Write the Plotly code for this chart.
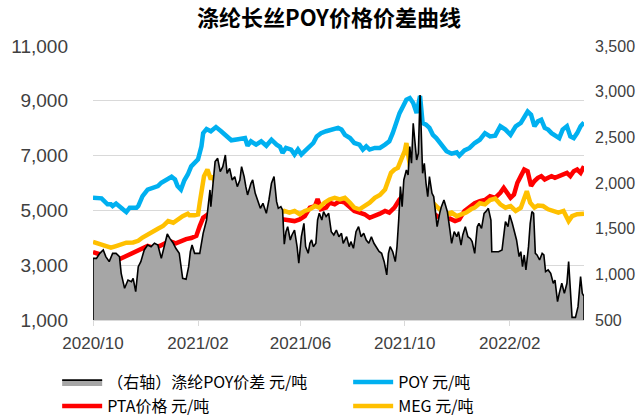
import plotly.graph_objects as go

# ---------------- data ----------------
poy_dates = ["2020-10-01","2020-10-11","2020-10-18","2020-10-22","2020-10-24","2020-10-28","2020-11-05","2020-11-09","2020-11-13","2020-11-21","2020-11-23","2020-11-28","2020-12-04","2020-12-10","2020-12-16","2020-12-20","2020-12-26","2021-01-01","2021-01-05","2021-01-08","2021-01-12","2021-01-16","2021-01-20","2021-01-24","2021-02-01","2021-02-05","2021-02-07","2021-02-11","2021-02-16","2021-02-22","2021-02-28","2021-03-06","2021-03-12","2021-03-20","2021-03-28","2021-03-31","2021-04-04","2021-04-10","2021-04-16","2021-04-22","2021-04-28","2021-05-04","2021-05-08","2021-05-11","2021-05-15","2021-05-21","2021-05-25","2021-05-29","2021-06-02","2021-06-06","2021-06-10","2021-06-16","2021-06-20","2021-06-25","2021-07-01","2021-07-09","2021-07-15","2021-07-19","2021-07-23","2021-07-29","2021-08-03","2021-08-09","2021-08-13","2021-08-17","2021-08-21","2021-08-27","2021-09-02","2021-09-08","2021-09-13","2021-09-17","2021-09-21","2021-09-25","2021-09-29","2021-10-03","2021-10-07","2021-10-11","2021-10-15","2021-10-18","2021-10-19","2021-10-22","2021-10-26","2021-10-30","2021-11-03","2021-11-07","2021-11-11","2021-11-15","2021-11-19","2021-11-25","2021-12-01","2021-12-04","2021-12-10","2021-12-16","2021-12-22","2021-12-28","2022-01-03","2022-01-09","2022-01-15","2022-01-21","2022-01-27","2022-02-02","2022-02-08","2022-02-14","2022-02-18","2022-02-22","2022-02-26","2022-03-02","2022-03-06","2022-03-10","2022-03-14","2022-03-18","2022-03-22","2022-03-26","2022-03-31","2022-04-04","2022-04-09","2022-04-13","2022-04-17","2022-04-21","2022-04-25","2022-04-29"]
poy_values = [5460,5440,5220,5220,5160,5250,5040,4940,5100,5100,5160,5520,5760,5830,5890,6010,6130,6230,6130,5890,5760,6100,6310,6610,6860,7340,7820,7970,7890,8040,7890,7730,7560,7600,7640,7360,7520,7400,7520,7360,7580,7400,7320,7100,7280,7220,7040,7220,7040,7160,7280,7460,7700,7820,7890,7950,8010,7950,7760,7640,7460,7400,7220,7340,7220,7280,7280,7400,7520,7820,8190,8550,8790,9040,9100,8920,8550,9040,9180,8190,8130,8010,7760,7640,7460,7280,7160,7070,7120,7000,7190,7280,7460,7580,7820,7700,7730,8070,7950,7760,8070,8190,8430,8610,8490,8070,8250,8310,8010,7950,7820,7760,7640,7950,8070,7700,7640,7820,8070,8210]

pta_dates = ["2020-10-01","2020-10-09","2020-10-16","2020-10-22","2020-10-28","2020-11-05","2020-11-13","2020-11-21","2020-11-28","2020-12-04","2020-12-10","2020-12-18","2020-12-26","2021-01-01","2021-01-06","2021-01-12","2021-01-18","2021-01-24","2021-01-30","2021-02-03","2021-02-07","2021-02-11","2021-02-15","2021-02-18","2021-02-24","2021-03-02","2021-03-08","2021-03-14","2021-03-20","2021-03-26","2021-03-31","2021-04-06","2021-04-12","2021-04-18","2021-04-24","2021-04-30","2021-05-06","2021-05-10","2021-05-13","2021-05-19","2021-05-25","2021-05-31","2021-06-06","2021-06-12","2021-06-18","2021-06-21","2021-06-25","2021-07-01","2021-07-05","2021-07-11","2021-07-17","2021-07-23","2021-07-29","2021-08-03","2021-08-09","2021-08-15","2021-08-21","2021-08-27","2021-09-02","2021-09-08","2021-09-13","2021-09-19","2021-09-25","2021-09-29","2021-10-03","2021-10-07","2021-10-11","2021-10-15","2021-10-19","2021-10-24","2021-10-30","2021-11-05","2021-11-11","2021-11-17","2021-11-23","2021-11-29","2021-12-04","2021-12-10","2021-12-16","2021-12-22","2021-12-28","2022-01-03","2022-01-09","2022-01-15","2022-01-21","2022-01-25","2022-01-29","2022-02-02","2022-02-06","2022-02-10","2022-02-14","2022-02-18","2022-02-22","2022-02-26","2022-03-02","2022-03-06","2022-03-10","2022-03-14","2022-03-18","2022-03-22","2022-03-26","2022-03-30","2022-04-03","2022-04-09","2022-04-13","2022-04-17","2022-04-21","2022-04-25","2022-04-29"]
pta_values = [3480,3400,3160,3040,3160,3280,3400,3520,3610,3700,3640,3700,3820,3850,3800,3890,3950,3990,4070,4430,4730,4820,4670,4770,4550,4430,4310,4430,4370,4490,4610,4670,4580,4610,4670,4770,4790,4680,4670,4670,4610,4670,4790,5100,5160,5420,5040,5100,5280,5220,5340,5280,5100,4980,4920,4860,4730,4790,4880,4980,4920,5100,5400,5520,5460,5340,5220,5280,5100,5040,4920,4860,4730,4670,4700,4610,4670,4980,5130,5260,5340,5380,5520,5460,5640,5820,5640,5460,5580,6010,6250,6490,6430,5890,6070,6190,6250,6130,6190,6250,6190,6250,6310,6370,6250,6430,6490,6370,6610]

meg_dates = ["2020-10-01","2020-10-09","2020-10-16","2020-10-22","2020-10-28","2020-11-03","2020-11-09","2020-11-17","2020-11-23","2020-11-28","2020-12-04","2020-12-10","2020-12-16","2020-12-22","2020-12-28","2021-01-03","2021-01-08","2021-01-14","2021-01-20","2021-01-22","2021-01-28","2021-02-01","2021-02-03","2021-02-05","2021-02-08","2021-02-12","2021-02-16","2021-02-18","2021-02-22","2021-02-26","2021-03-02","2021-03-08","2021-03-14","2021-03-20","2021-03-26","2021-03-31","2021-04-06","2021-04-12","2021-04-18","2021-04-24","2021-04-28","2021-05-02","2021-05-08","2021-05-13","2021-05-19","2021-05-25","2021-05-31","2021-06-06","2021-06-12","2021-06-18","2021-06-23","2021-06-29","2021-07-05","2021-07-11","2021-07-17","2021-07-23","2021-07-29","2021-08-03","2021-08-09","2021-08-15","2021-08-21","2021-08-27","2021-09-02","2021-09-08","2021-09-11","2021-09-15","2021-09-19","2021-09-23","2021-09-27","2021-10-01","2021-10-03","2021-10-05","2021-10-07","2021-10-09","2021-10-13","2021-10-17","2021-10-21","2021-10-26","2021-11-01","2021-11-07","2021-11-13","2021-11-19","2021-11-25","2021-12-01","2021-12-06","2021-12-12","2021-12-18","2021-12-22","2021-12-28","2022-01-03","2022-01-09","2022-01-15","2022-01-21","2022-01-27","2022-02-02","2022-02-08","2022-02-14","2022-02-18","2022-02-21","2022-02-25","2022-03-02","2022-03-06","2022-03-12","2022-03-18","2022-03-24","2022-03-30","2022-04-05","2022-04-11","2022-04-15","2022-04-21","2022-04-29"]
meg_values = [3850,3760,3700,3640,3700,3760,3820,3830,3890,4010,4130,4250,4330,4430,4610,4550,4670,4790,4880,4820,4820,4850,5280,5760,6250,6490,6130,6270,5890,5460,5160,5040,5100,5180,5100,5160,4920,4790,4770,4860,5100,4860,4920,4980,4920,4980,4860,4980,5040,5160,5100,5280,5400,5460,5400,5460,5280,5100,5040,5160,5280,5460,5560,5760,6070,6370,6490,6550,6860,7160,7460,6980,6490,6250,5890,5700,5580,5460,5340,5160,4980,4860,4920,4790,4860,4920,5050,5100,5260,5220,5380,5430,5220,5100,5160,4980,5100,5460,5700,5280,5100,5180,5160,5040,4980,4920,4980,4610,4790,4860,4880]

spread_dates = ["2020-10-01","2020-10-05","2020-10-09","2020-10-13","2020-10-16","2020-10-20","2020-10-24","2020-10-28","2020-11-01","2020-11-03","2020-11-07","2020-11-11","2020-11-15","2020-11-17","2020-11-20","2020-11-23","2020-11-26","2020-11-30","2020-12-04","2020-12-08","2020-12-12","2020-12-16","2020-12-20","2020-12-24","2020-12-27","2020-12-30","2021-01-03","2021-01-06","2021-01-10","2021-01-14","2021-01-18","2021-01-21","2021-01-23","2021-01-25","2021-01-28","2021-02-03","2021-02-07","2021-02-11","2021-02-13","2021-02-15","2021-02-16","2021-02-18","2021-02-21","2021-02-24","2021-02-27","2021-03-02","2021-03-05","2021-03-07","2021-03-10","2021-03-13","2021-03-16","2021-03-19","2021-03-22","2021-03-24","2021-03-27","2021-03-29","2021-03-31","2021-04-04","2021-04-06","2021-04-09","2021-04-12","2021-04-15","2021-04-18","2021-04-22","2021-04-25","2021-04-28","2021-05-01","2021-05-04","2021-05-06","2021-05-09","2021-05-11","2021-05-13","2021-05-15","2021-05-17","2021-05-20","2021-05-22","2021-05-25","2021-05-28","2021-05-30","2021-06-02","2021-06-05","2021-06-07","2021-06-10","2021-06-12","2021-06-14","2021-06-16","2021-06-19","2021-06-21","2021-06-23","2021-06-26","2021-06-28","2021-07-01","2021-07-04","2021-07-07","2021-07-10","2021-07-13","2021-07-16","2021-07-19","2021-07-21","2021-07-25","2021-07-28","2021-07-30","2021-08-02","2021-08-05","2021-08-08","2021-08-11","2021-08-14","2021-08-17","2021-08-20","2021-08-23","2021-08-26","2021-08-29","2021-09-01","2021-09-04","2021-09-07","2021-09-10","2021-09-12","2021-09-14","2021-09-17","2021-09-20","2021-09-22","2021-09-24","2021-09-26","2021-09-28","2021-09-30","2021-10-03","2021-10-05","2021-10-07","2021-10-09","2021-10-11","2021-10-13","2021-10-15","2021-10-17","2021-10-19","2021-10-22","2021-10-24","2021-10-26","2021-10-28","2021-10-30","2021-11-02","2021-11-04","2021-11-06","2021-11-08","2021-11-11","2021-11-13","2021-11-16","2021-11-18","2021-11-20","2021-11-23","2021-11-25","2021-11-28","2021-12-01","2021-12-03","2021-12-06","2021-12-08","2021-12-11","2021-12-14","2021-12-17","2021-12-19","2021-12-22","2021-12-25","2021-12-27","2021-12-30","2022-01-02","2022-01-04","2022-01-07","2022-01-10","2022-01-11","2022-01-15","2022-01-19","2022-01-23","2022-01-25","2022-01-27","2022-01-30","2022-02-01","2022-02-04","2022-02-07","2022-02-09","2022-02-12","2022-02-14","2022-02-16","2022-02-18","2022-02-20","2022-02-23","2022-02-25","2022-02-27","2022-03-01","2022-03-03","2022-03-05","2022-03-08","2022-03-11","2022-03-13","2022-03-15","2022-03-18","2022-03-21","2022-03-24","2022-03-26","2022-03-29","2022-03-31","2022-04-03","2022-04-06","2022-04-09","2022-04-11","2022-04-13","2022-04-15","2022-04-19","2022-04-22","2022-04-25","2022-04-27","2022-04-29"]
spread_values = [1175,1175,1230,1267,1194,1139,1230,1230,1194,1011,847,938,920,956,810,1084,1139,1267,1321,1303,1340,1321,1175,1340,1442,1394,1340,1285,1230,956,945,1084,1248,1321,1230,1230,1449,1595,1741,1924,1741,1960,2234,2270,2124,2179,2307,2106,2161,2033,2070,1960,2033,2179,2070,1960,1869,1997,2033,1887,1814,1723,1778,1668,1814,1997,2070,1796,1723,1741,1705,1330,1467,1522,1376,1431,1485,1303,1121,1412,1559,1303,1230,1340,1376,1303,1340,1595,1668,1595,1686,1632,1668,1467,1431,1485,1412,1449,1340,1412,1303,1358,1285,1467,1522,1412,1449,1376,1340,1412,1340,1300,1250,1230,1139,993,1230,1303,1248,1139,1303,1595,1960,1741,2033,2143,2088,2398,2216,2654,2398,2252,2325,2964,2106,2216,1997,1851,2070,1887,1851,1705,1522,1668,1741,1814,1741,1686,1485,1340,1467,1412,1467,1321,1431,1522,1412,1390,1358,1230,1522,1559,1504,1668,1686,1723,1595,1248,1248,1248,1267,1412,1577,1522,1650,1559,1449,1376,1194,1248,1084,1212,1048,1303,1559,1686,1668,1230,1212,1157,1230,1212,1029,1048,1011,902,938,701,792,902,792,902,1139,792,529,529,646,975,792,760]

tick_dates = ["2020-10-01", "2021-02-01", "2021-06-01", "2021-10-01", "2022-02-01"]
tick_labels = ["2020/10", "2021/02", "2021/06", "2021/10", "2022/02"]

left_range = [1000, 11000]
right_range = [500, 3500]

names = ["（右轴）涤纶POY价差 元/吨", "POY 元/吨", "PTA价格 元/吨", "MEG 元/吨"]

# ---------------- figure ----------------
CJK = "Noto Sans CJK SC"
NUM = "Liberation Sans"
TXT = "#404040"

fig = go.Figure()
fig.add_trace(go.Scatter(
    x=spread_dates, y=spread_values, name=names[0], yaxis="y2",
    mode="lines", fill="tozeroy", fillcolor="#A6A6A6",
    line=dict(color="#000000", width=1.6)))
# vertical edges of the area
fig.add_trace(go.Scatter(
    x=[spread_dates[0], spread_dates[0], None, spread_dates[-1], spread_dates[-1]],
    y=[right_range[0], spread_values[0], None, spread_values[-1], right_range[0]],
    yaxis="y2", mode="lines", line=dict(color="#000000", width=1.6),
    showlegend=False, hoverinfo="skip"))
fig.add_trace(go.Scatter(x=poy_dates, y=poy_values, name=names[1], mode="lines",
                         line=dict(color="#00B0F0", width=4.5)))
fig.add_trace(go.Scatter(x=pta_dates, y=pta_values, name=names[2], mode="lines",
                         line=dict(color="#FF0000", width=4.5)))
fig.add_trace(go.Scatter(x=meg_dates, y=meg_values, name=names[3], mode="lines",
                         line=dict(color="#FFC000", width=4.5)))

fig.update_layout(
    width=640, height=419,
    margin=dict(l=93, r=56, t=46, b=99, autoexpand=False),
    paper_bgcolor="white", plot_bgcolor="white",
    title=dict(text="<b>涤纶长丝POY价格价差曲线</b>", x=0.514, xanchor="center",
               y=1 - 18 / 419, yanchor="middle",
               font=dict(family=CJK, size=22, color="#000000")),
    xaxis=dict(type="date", range=[spread_dates[0], spread_dates[-1]],
               tickvals=tick_dates, ticktext=tick_labels,
               showgrid=False, zeroline=False,
               showline=True, linecolor="#D9D9D9", linewidth=1,
               ticks="outside", ticklen=5, tickcolor="#D9D9D9",
               ticklabelstandoff=3,
               tickfont=dict(family=NUM, size=17, color=TXT)),
    yaxis=dict(range=left_range, tick0=left_range[0], dtick=2000, tickformat=",d",
               showgrid=True, gridcolor="#D9D9D9", gridwidth=1,
               zeroline=False, showline=False, ticks="",
               ticklabelstandoff=24,
               tickfont=dict(family=NUM, size=19, color=TXT)),
    yaxis2=dict(range=right_range, tick0=right_range[0], dtick=500, tickformat=",d",
                overlaying="y", side="right", showgrid=False,
                zeroline=False, showline=False, ticks="",
                ticklabelstandoff=10,
                tickfont=dict(family=NUM, size=16, color=TXT)),
    legend=dict(orientation="h", x=-0.073, xanchor="left", y=-0.165, yanchor="top",
                entrywidth=236, entrywidthmode="pixels",
                font=dict(family=CJK, size=16, color="#000000"),
                bgcolor="rgba(0,0,0,0)", itemwidth=40, tracegroupgap=0),
    showlegend=True,
)

fig.write_html("out.html", post_script="document.body.style.margin='0';",
               config={"displayModeBar": False})
